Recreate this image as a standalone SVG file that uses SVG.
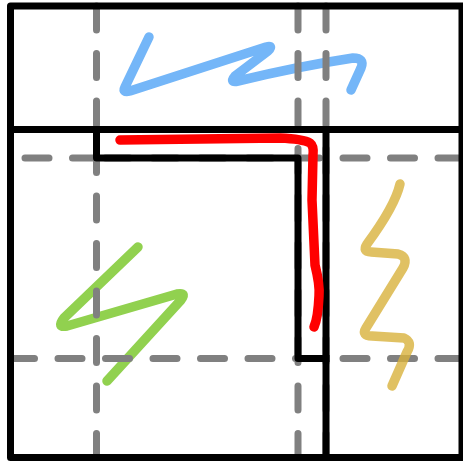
<svg xmlns="http://www.w3.org/2000/svg" width="463" height="461" viewBox="0 0 463 461">
<style>
.ink{fill:none;stroke-linecap:round;stroke-linejoin:round;stroke-width:9.5}
.guide{fill:none;stroke:#808080;stroke-width:7;stroke-linecap:round;stroke-dasharray:24 23.5}
.frame{fill:none;stroke:#000;stroke-width:7;stroke-linejoin:round;stroke-linecap:square}
</style>
<rect width="463" height="461" fill="#fff"/>
<g id="scribble-blue">
<path class="ink" stroke="#74b6f8" d="M149 37 L125 87 Q122 93 130 91 L266 47 Q274 45 268 51 L235 76 Q229 83 238 81 Q300 66 353 58 Q365 58 361 68 L351 90"/>
</g>
<g id="scribble-green">
<path class="ink" stroke="#91d14f" d="M138 247 L64 318 Q56 328 67 326 L177 294 Q187 292 181 300 L107 381"/>
</g>
<g id="guides">
<path class="guide" d="M96.5 6 V461"/>
<path class="guide" d="M298 6 V461"/>
<path class="guide" d="M326 6 V461"/>
<path class="guide" d="M462 158 H96.5"/>
<path class="guide" d="M96.5 158 H10.5"/>
<path class="guide" d="M462 358.5 H10.5"/>
</g>
<g id="frames">
<rect class="frame" x="10.5" y="6" width="451.5" height="451.5"/>
<path class="frame" d="M10.5 129.5 H462"/>
<path class="frame" d="M326 129.5 V457.5"/>
<path class="frame" d="M96.5 129.5 V158 H298 V358.5 H326"/>
</g>
<g id="scribble-red">
<path class="ink" stroke="#ff0000" d="M120 140 L280 138 Q303 139 310 143 Q314 146 313 155 L312 200 L315 265 Q320 285 319 296 Q318 318 314 327"/>
</g>
<g id="scribble-yellow" opacity="0.8">
<path class="ink" stroke="#d8b23c" d="M400 184 Q395 206 367 244 Q362 252 371 252 L398 254 Q409 257 403 268 L366 328 Q361 336 372 336 L404 338 Q413 342 407 352 L392 386"/>
</g>
</svg>
